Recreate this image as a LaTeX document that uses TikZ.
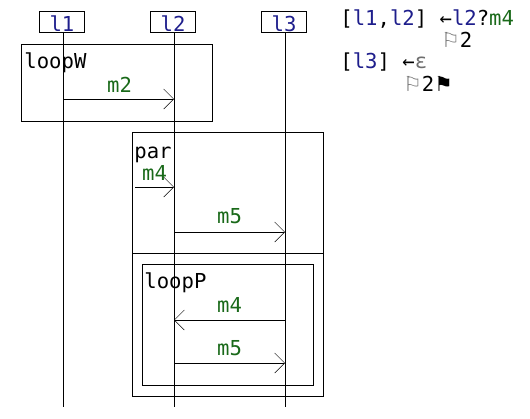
\documentclass[tikz,border=0pt]{standalone}
\usepackage{fontspec}
\setmonofont{DejaVu Sans Mono}
\newfontfamily\symfont{DejaVu Sans}
\usetikzlibrary{arrows.meta}
\definecolor{lblue}{RGB}{30,30,140}
\definecolor{mgreen}{RGB}{25,105,25}
\definecolor{egray}{RGB}{110,110,110}
\begin{document}
\begin{tikzpicture}[x=1pt,y=-1pt,
  font=\ttfamily\fontsize{20.6}{24}\selectfont,
  line width=0.8pt,
  hdr/.style={draw,minimum width=45pt,minimum height=21pt,inner sep=0pt,text height=20pt,text depth=0pt,text=lblue},
  lifeline/.style={line width=0.8pt},
  frame/.style={line width=0.8pt},
  msg/.style={-{Straight Barb[length=10pt,width=20pt,line width=0.5pt]}},
  lbl/.style={anchor=base,inner sep=0pt,text=mgreen},
  flbl/.style={anchor=base west,inner sep=0pt},
  txt/.style={anchor=base west,inner sep=0pt}]
\useasboundingbox (0,0) rectangle (530,418);
% headers
\node[hdr] (l1) at (62,21.5) {l1};
\node[hdr] (l2) at (173,21.5) {l2};
\node[hdr] (l3) at (284,21.5) {l3};
\coordinate (bot) at (0,407);
\coordinate (x1) at (63,0);
\coordinate (x2) at (174,0);
\coordinate (x3) at (285,0);
\draw[lifeline] (l1.south -| x1) -- (bot -| x1);
\draw[lifeline] (l2.south -| x2) -- (bot -| x2);
\draw[lifeline] (l3.south -| x3) -- (bot -| x3);
% loopW frame
\draw[frame] (21.5,44.5) rectangle (212.5,121);
\node[flbl] (fW) at (24,68) {loopW};
\coordinate (r1) at (0,99);
\draw[msg] (r1 -| x1) -- (r1 -| x2);
\node[lbl] (t1) at (119.5,92) {m2};
% par frame
\draw[frame] (132.5,132.5) rectangle (323.5,396);
\draw[frame] (132.5,253) -- (323.5,253);
\node[flbl] (fP) at (134,158) {par};
\coordinate (r2) at (0,187);
\coordinate (s2) at (135,187);
\draw[msg] (s2) -- (r2 -| x2);
\node[lbl] (t2) at (154.5,180) {m4};
\coordinate (r3) at (0,232);
\draw[msg] (r3 -| x2) -- (r3 -| x3);
\node[lbl] (t3) at (229.5,223) {m5};
% loopP frame
\draw[frame] (142.5,264.5) rectangle (313.5,385);
\node[flbl] (fL) at (144,288) {loopP};
\coordinate (r4) at (0,320);
\draw[msg] (r4 -| x3) -- (r4 -| x2);
\node[lbl] (t4) at (229.5,312) {m4};
\coordinate (r5) at (0,363);
\draw[msg] (r5 -| x2) -- (r5 -| x3);
\node[lbl] (t5) at (229.5,355) {m5};
% state text
\node[txt] (st1) at (340,25) {[\textcolor{lblue}{l1},\textcolor{lblue}{l2}] ←\textcolor{lblue}{l2}?\textcolor{mgreen}{m4}};
\node[txt] (st2) at (441,47) {{\symfont\textcolor{egray}{⚐}}2};
\node[txt] (st3) at (340,68) {[\textcolor{lblue}{l3}] ←\textcolor{egray}{ε}};
\node[txt] (st4) at (403,91) {{\symfont\textcolor{egray}{⚐}}2{\symfont ⚑}};
\end{tikzpicture}
\end{document}
